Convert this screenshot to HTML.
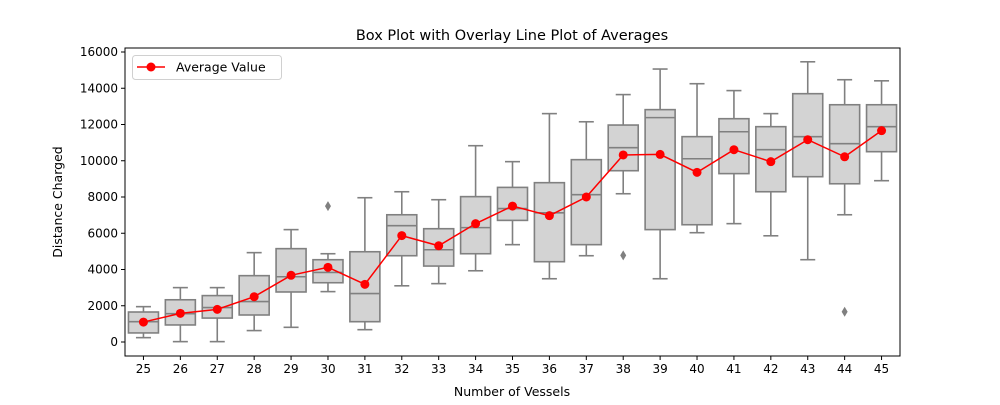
<!DOCTYPE html>
<html><head><meta charset="utf-8"><style>
body{margin:0;background:#fff;font-family:"Liberation Sans","DejaVu Sans",sans-serif}
svg text{font-family:"DejaVu Sans","Liberation Sans",sans-serif;fill:#000}
</style></head><body>
<svg id="chart" width="1000" height="400" xmlns="http://www.w3.org/2000/svg"></svg>
<script>
const categories=[25,26,27,28,29,30,31,32,33,34,35,36,37,38,39,40,41,42,43,44,45];
const whiskerLow=[240,20,20,630,810,2780,680,3100,3220,3930,5370,3490,4760,8180,3490,6030,6530,5860,4540,7020,8900];
const q1=[500,940,1320,1490,2760,3270,1120,4760,4190,4870,6710,4430,5370,9450,6200,6470,9290,8290,9120,8730,10500];
const medians=[1120,1560,1900,2230,3600,3840,2670,6420,5090,6310,7360,7130,8130,10720,12380,10110,11600,10610,11330,10940,11880];
const q3=[1655,2330,2560,3660,5150,4540,4980,7020,6250,8020,8530,8790,10060,11970,12820,11330,12320,11880,13700,13090,13090];
const whiskerHigh=[1950,3000,3000,4930,6200,4870,7960,8290,7850,10830,9950,12600,12150,13650,15060,14250,13870,12600,15460,14470,14410];
const means=[1100,1580,1800,2500,3680,4120,3180,5870,5310,6530,7500,6970,8000,10320,10350,9360,10610,9950,11160,10220,11660];
const outlierCats=[30,38,44];
const outlierVals=[7500,4780,1670];
const yTicks=[0,2000,4000,6000,8000,10000,12000,14000,16000];

const NS="http://www.w3.org/2000/svg";
const svg=document.getElementById('chart');
const L=125,R=900,T=48,B=356;
const step=(R-L)/categories.length;
const xs=c=>L+step*(categories.indexOf(c)+0.5);
const ys=v=>342-v*(290/16000);
function mk(tag,attrs,parent){const e=document.createElementNS(NS,tag);for(const k in attrs)e.setAttribute(k,attrs[k]);(parent||svg).appendChild(e);return e;}

const plot=mk('g',{});


mk('rect',{x:L,y:T,width:R-L,height:B-T,fill:'#fff'},plot);

categories.forEach((c,i)=>{
  const x=xs(c),g=mk('g',{},plot);
  
  
  const st={stroke:'#808080','stroke-width':1.6,fill:'none'};
  mk('line',Object.assign({x1:x,x2:x,y1:ys(whiskerLow[i]),y2:ys(q1[i])},st),g);
  mk('line',Object.assign({x1:x,x2:x,y1:ys(q3[i]),y2:ys(whiskerHigh[i])},st),g);
  mk('line',Object.assign({x1:x-7.5,x2:x+7.5,y1:ys(whiskerLow[i]),y2:ys(whiskerLow[i])},st),g);
  mk('line',Object.assign({x1:x-7.5,x2:x+7.5,y1:ys(whiskerHigh[i]),y2:ys(whiskerHigh[i])},st),g);
  mk('rect',{x:x-15,y:ys(q3[i]),width:30,height:ys(q1[i])-ys(q3[i]),fill:'#d3d3d3',stroke:'#808080','stroke-width':1.6},g);
  mk('line',Object.assign({x1:x-15,x2:x+15,y1:ys(medians[i]),y2:ys(medians[i])},st),g);
});
outlierCats.forEach((c,i)=>{
  const x=xs(c),y=ys(outlierVals[i]);
  const o=mk('path',{d:`M${x} ${y-5}L${x+3} ${y}L${x} ${y+5}L${x-3} ${y}Z`,fill:'#808080'},plot);
  
  
});
const line=mk('polyline',{points:categories.map((c,i)=>xs(c)+','+ys(means[i])).join(' '),fill:'none',stroke:'#ff0000','stroke-width':1.5},plot);


categories.forEach((c,i)=>{
  const p=mk('circle',{cx:xs(c),cy:ys(means[i]),r:4.5,fill:'#ff0000'},plot);
  
  
});
mk('rect',{x:L,y:T,width:R-L,height:B-T,fill:'none',stroke:'#000','stroke-width':1},plot);

categories.forEach(c=>{
  const x=xs(c);
  mk('line',{x1:x,x2:x,y1:B,y2:B+4,stroke:'#000'});
  const t=mk('text',{x:x,y:B+17,'text-anchor':'middle','font-size':12});
  t.textContent=c;
  
  
});
yTicks.forEach(v=>{
  const y=ys(v);
  mk('line',{x1:L-4,x2:L,y1:y,y2:y,stroke:'#000'});
  const t=mk('text',{x:L-7,y:y+4,'text-anchor':'end','font-size':12});
  t.textContent=v;
  
  
});
const title=mk('text',{x:512,y:40,'text-anchor':'middle','font-size':14.5});
title.textContent='Box Plot with Overlay Line Plot of Averages';


const xl=mk('text',{x:512,y:396,'text-anchor':'middle','font-size':12.5});
xl.textContent='Number of Vessels';


const yl=mk('text',{x:62,y:202,'text-anchor':'middle','font-size':12.5,transform:'rotate(-90 62 202)'});
yl.textContent='Distance Charged';



const lg=mk('g',{});


mk('rect',{x:132.5,y:55.5,width:149,height:24,rx:3,fill:'#fff',stroke:'#d0d0d0'},lg);
mk('line',{x1:137,x2:165,y1:67,y2:67,stroke:'#ff0000','stroke-width':1.5},lg);
mk('circle',{cx:151,cy:67,r:4.5,fill:'#ff0000'},lg);
const lt=mk('text',{x:176,y:71.5,'font-size':12.5},lg);
lt.textContent='Average Value';


</script>
</body></html>
